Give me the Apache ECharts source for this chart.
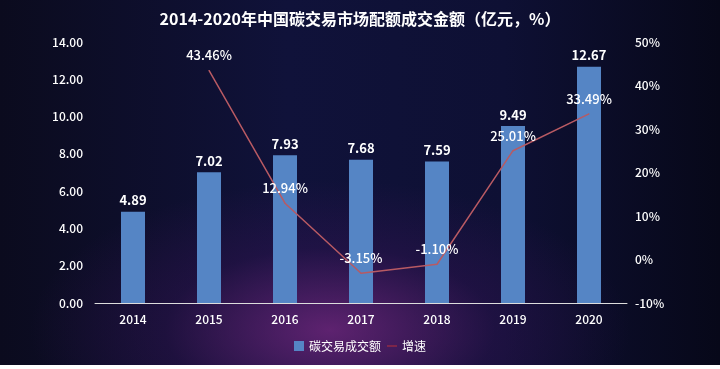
<!DOCTYPE html>
<html><head><meta charset="utf-8">
<script src="https://cdn.jsdelivr.net/npm/echarts@6/dist/echarts.min.js"></script>
<style>
html,body{margin:0;padding:0;width:720px;height:369px;overflow:hidden;background:#fff;}
#bg{position:absolute;left:0;top:0;width:720px;height:365px;
background:radial-gradient(ellipse 300px 150px at 330px 330px, rgba(120,40,130,0.75), rgba(60,20,90,0.35) 55%, rgba(0,0,0,0) 100%),
linear-gradient(90deg,#0b0b1e 0%,#10123a 40%,#0e1034 70%,#070819 100%);}
#c{position:absolute;left:0;top:0;width:720px;height:365px;}
</style></head>
<body><div id="bg"></div><div id="c"></div>
<script>
var years = ['2014','2015','2016','2017','2018','2019','2020'];
var amount = [4.89, 7.02, 7.93, 7.68, 7.59, 9.49, 12.67];
var growth = [null, 43.46, 12.94, -3.15, -1.10, 25.01, 33.49];
var leftTicks = [0, 14, 2];
var rightTicks = [-10, 50, 10];
var chart = echarts.init(document.getElementById('c'));
var font = '"Noto Sans CJK SC","Noto Sans",sans-serif';
chart.setOption({
  backgroundColor: 'transparent',
  title: {text: '2014-2020年中国碳交易市场配额成交金额（亿元，%）', left: 'center', top: 6,
    textStyle: {color: '#fff', fontSize: 16, fontWeight: 'bold', fontFamily: font}},
  legend: {bottom: 8, itemWidth: 10, itemHeight: 10, itemGap: 6,
    textStyle: {color: '#fff', fontSize: 12, fontFamily: font},
    data: [{name: '碳交易成交额', icon: 'rect'},
           {name: '增速', icon: 'path://M0,0 L14,0 L14,1.5 L0,1.5 Z', itemStyle: {color: '#b0303a'}}]},
  grid: {left: 95, right: 93, top: 42, bottom: 62},
  xAxis: {type: 'category', data: years,
    axisLine: {lineStyle: {color: '#ddd'}}, axisTick: {show: false},
    axisLabel: {color: '#fff', fontSize: 12, fontFamily: font, fontWeight: 500, margin: 10}},
  yAxis: [
    {type: 'value', min: leftTicks[0], max: leftTicks[1], interval: leftTicks[2],
     splitLine: {show: false}, axisLine: {show: false}, axisTick: {show: false},
     axisLabel: {color: '#fff', fontSize: 12, fontFamily: font, fontWeight: 500, margin: 12,
       formatter: function(v){return v.toFixed(2);}}},
    {type: 'value', min: rightTicks[0], max: rightTicks[1], interval: rightTicks[2],
     splitLine: {show: false}, axisLine: {show: false}, axisTick: {show: false},
     axisLabel: {color: '#fff', fontSize: 12, fontFamily: font, fontWeight: 500, margin: 8, formatter: '{value}%'}}
  ],
  series: [
    {name: '碳交易成交额', type: 'bar', data: amount, barWidth: 24,
     itemStyle: {color: '#5585c5'},
     label: {show: true, position: 'top', color: '#fff', fontSize: 13, fontWeight: 'bold', fontFamily: font,
       formatter: function(p){return p.value.toFixed(2);}}},
    {name: '增速', type: 'line', yAxisIndex: 1, data: growth, symbol: 'circle', symbolSize: 1, showSymbol: true,
     lineStyle: {color: '#b85a63', width: 1.5}, itemStyle: {color: '#b85a63'},
     label: {show: true, position: 'top', distance: 8, color: '#fff', fontSize: 13, fontWeight: 500, fontFamily: font,
       formatter: function(p){return p.value.toFixed(2)+'%';}}}
  ]
});
</script></body></html>
